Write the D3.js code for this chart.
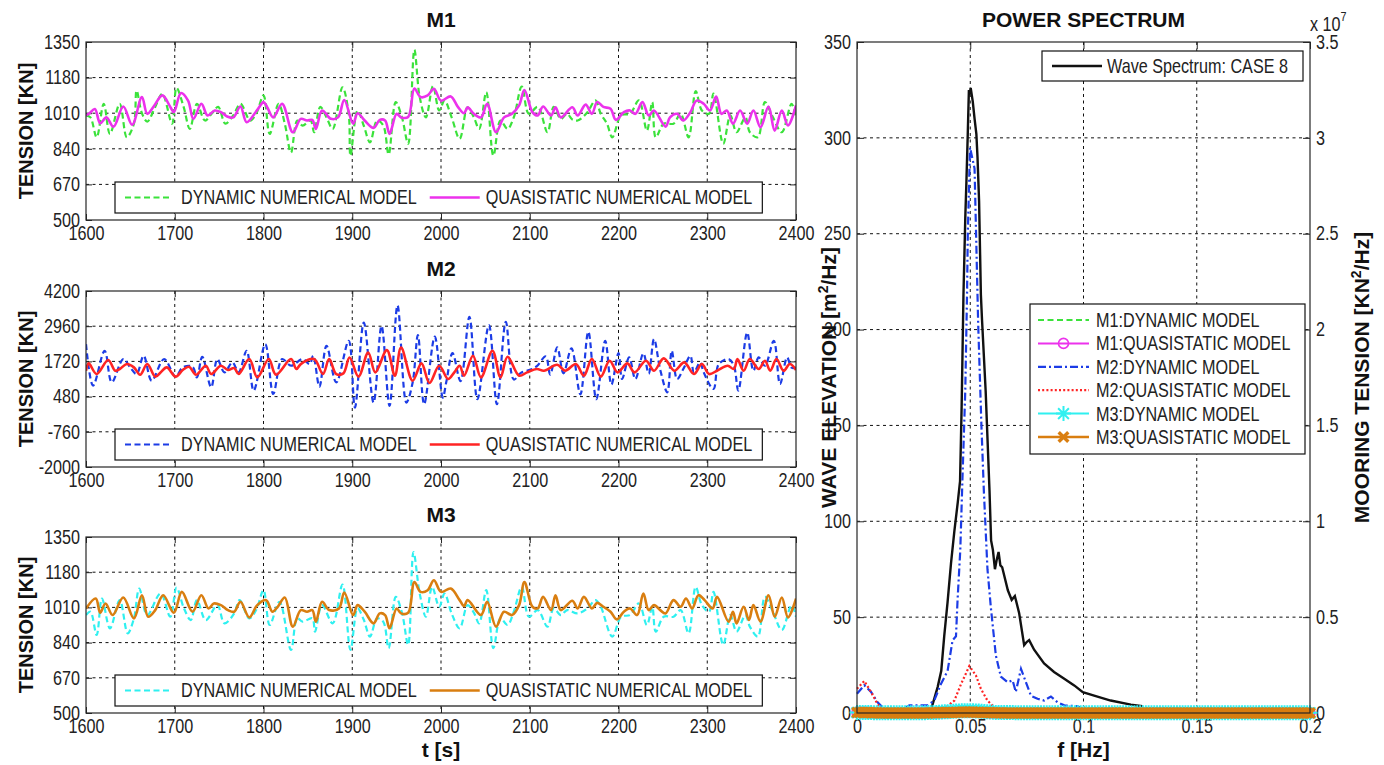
<!DOCTYPE html>
<html>
<head>
<meta charset="utf-8">
<script src="https://cdn.jsdelivr.net/npm/d3@7"></script>
<style>
  body { margin: 0; background: #fff; }
  svg text { font-family: "Liberation Sans", Arial, sans-serif; font-size: 19.5px; fill: #222; }
  svg text.bold { font-weight: bold; font-size: 21px; fill: #111; }
</style>
</head>
<body>
<svg id="chart" width="1384" height="765"></svg>
<script>
// ---------- time axis and tension ticks ----------
const timeTicks = [1600, 1700, 1800, 1900, 2000, 2100, 2200, 2300, 2400];
const m1Ticks = [500, 670, 840, 1010, 1180, 1350];
const m2Ticks = [-2000, -760, 480, 1720, 2960, 4200];
const m3Ticks = [500, 670, 840, 1010, 1180, 1350];
const tensionLegend = ["DYNAMIC NUMERICAL MODEL", "QUASISTATIC NUMERICAL MODEL"];

// ---------- M1 mooring tension [kN] ----------
const m1DynT = [1600,1605,1612,1620,1627,1638,1646,1654,1657,1663,1669,1678,1686,1697,1702,1710,1717,1725,1734,1742,1749,1757,1766,1774,1785,1792,1800,1807,1817,1824,1831,1838,1844,1853,1857,1864,1871,1878,1889,1896,1898,1906,1913,1920,1928,1935,1941,1949,1956,1963,1970,1976,1983,1991,1998,2004,2012,2021,2030,2037,2043,2051,2059,2067,2075,2082,2091,2099,2109,2120,2127,2135,2142,2148,2154,2165,2174,2180,2187,2193,2203,2213,2223,2232,2238,2242,2251,2262,2270,2279,2287,2294,2302,2307,2318,2326,2333,2343,2348,2357,2365,2374,2384,2395,2400];
const m1DynV = [1000,990,895,1055,911,1055,895,960,1118,1010,970,1040,1103,960,1131,1040,935,1055,975,1010,1040,960,1000,1055,975,1010,1095,911,1055,960,822,975,951,975,919,1040,990,935,1134,1007,807,1023,950,871,975,951,813,1063,990,864,1313,1087,990,1140,1023,1070,990,888,1038,990,935,1110,807,975,935,990,1137,1007,1040,919,1040,983,1007,980,975,1015,1071,1007,960,895,1000,1007,1071,927,1063,895,960,960,1007,895,1115,1023,1007,1104,864,1000,919,990,919,895,1063,990,919,1055,990];
const m1QuasiT = [1600,1604,1610,1616,1623,1631,1642,1652,1663,1669,1676,1686,1695,1699,1707,1715,1721,1730,1737,1745,1752,1759,1766,1774,1781,1793,1800,1804,1811,1821,1833,1842,1849,1855,1859,1866,1876,1884,1891,1901,1906,1914,1924,1931,1937,1942,1950,1955,1963,1970,1977,1985,1992,2000,2011,2019,2026,2030,2037,2045,2052,2062,2071,2080,2088,2094,2103,2109,2115,2124,2129,2135,2148,2154,2163,2170,2176,2183,2191,2197,2206,2213,2219,2227,2234,2240,2253,2258,2266,2273,2281,2288,2296,2303,2310,2316,2322,2329,2337,2345,2352,2360,2369,2376,2384,2391,2400];
const m1QuasiV = [1000,1010,1030,962,990,945,1042,955,1087,1007,1040,1095,1040,1015,1106,1070,983,1055,999,1023,1015,994,990,1042,967,1026,1063,1040,990,1055,919,983,975,978,935,1023,983,990,1073,960,1010,975,940,978,975,911,1007,990,992,1128,1087,1095,1127,1070,1090,1040,1010,1038,1007,990,1055,919,990,1007,1047,1121,1015,999,1042,999,1038,990,1038,999,1051,1007,1063,1040,1031,978,1015,1023,1007,1063,999,1023,946,990,1007,975,1015,1070,1055,1023,1090,1007,1023,960,1023,960,1023,943,1042,927,1023,951,1047];

// ---------- M2 mooring tension [kN] ----------
const m2DynT = [1600,1608,1621,1629,1642,1650,1657,1665,1674,1688,1701,1709,1720,1725,1731,1741,1748,1756,1765,1772,1781,1789,1802,1811,1821,1831,1844,1852,1856,1863,1871,1882,1896,1903,1913,1924,1933,1942,1951,1961,1968,1974,1981,1993,2002,2006,2013,2022,2032,2041,2054,2063,2073,2082,2090,2101,2108,2118,2123,2131,2138,2147,2157,2166,2175,2185,2192,2200,2204,2212,2219,2228,2234,2240,2247,2255,2260,2266,2273,2281,2285,2292,2296,2307,2313,2324,2330,2335,2345,2352,2358,2365,2375,2382,2390,2395,2400];
const m2DynV = [2328,866,2094,983,1802,1500,1275,1919,1041,1802,1182,1509,1533,1158,1884,807,1802,1334,1685,1334,2094,690,2328,573,1802,1568,1802,1626,1919,831,2270,983,2445,94,3089,270,2972,154,3692,270,966,2648,212,2590,444,1000,2010,1024,3286,386,2996,212,3112,1082,1314,1430,1550,1894,1256,2211,1300,2184,560,2764,386,2445,908,2010,1100,1860,1100,2000,1290,2504,1430,632,2094,1100,1450,1919,1334,1685,1334,749,1626,1802,1568,690,2738,1392,1860,1568,2445,924,1860,1500,1500];
const m2QuasiT = [1600,1603,1612,1625,1633,1638,1646,1654,1661,1669,1678,1684,1691,1701,1709,1716,1724,1735,1741,1752,1760,1767,1772,1784,1793,1806,1814,1831,1837,1842,1857,1867,1874,1882,1890,1897,1907,1918,1926,1939,1948,1955,1968,1978,1987,1998,2008,2015,2021,2026,2036,2045,2058,2067,2075,2088,2097,2108,2116,2131,2140,2152,2161,2170,2180,2190,2199,2210,2218,2231,2240,2251,2263,2274,2285,2294,2302,2311,2323,2330,2334,2341,2348,2358,2365,2371,2378,2386,2393,2400];
const m2QuasiV = [1392,1650,1275,1767,1392,1450,1626,1509,1252,1626,1182,1330,1509,1182,1416,1533,1252,1568,1275,1568,1416,1486,1275,1802,1158,1802,1252,1802,1451,1626,1802,1275,1802,1275,1299,1860,1182,2036,1334,2118,1217,2211,1041,1650,959,1568,1100,1334,1568,1217,1919,1158,2094,1158,1884,1217,1334,1451,1392,1603,1392,1626,1217,1802,1182,1743,1334,1650,1334,1743,1392,1825,1392,1685,1275,1626,1275,1392,1568,1451,1802,1392,1802,1451,1743,1392,1802,1392,1626,1416];

// ---------- M3 mooring tension [kN] ----------
const m3DynT = [1600,1605,1612,1618,1627,1638,1647,1654,1660,1669,1684,1695,1702,1710,1718,1725,1735,1748,1756,1767,1773,1784,1792,1800,1807,1818,1831,1838,1844,1855,1858,1866,1878,1889,1898,1906,1913,1920,1928,1935,1941,1949,1956,1963,1969,1976,1983,1990,1998,2004,2012,2021,2030,2037,2043,2051,2059,2067,2075,2082,2091,2099,2109,2120,2127,2135,2142,2154,2165,2174,2180,2193,2203,2213,2223,2232,2238,2242,2251,2262,2270,2279,2287,2294,2302,2307,2318,2326,2333,2343,2348,2357,2365,2374,2384,2395,2400];
const m3DynV = [973,989,877,1053,909,1045,885,957,1101,973,1077,965,1106,1010,949,1045,949,1021,933,981,1045,957,1000,1093,925,1037,805,957,941,957,893,1021,933,1120,805,1005,950,869,957,940,813,1061,985,829,1277,1077,965,1109,1013,1077,980,909,1021,985,933,1093,813,957,925,989,1109,965,997,917,1005,973,997,981,1005,1045,1013,869,965,973,1029,925,1013,893,965,965,997,885,1109,1021,989,1085,829,973,893,973,917,869,1061,989,901,1021,965];
const m3QuasiT = [1600,1611,1616,1622,1630,1642,1654,1663,1670,1678,1687,1699,1708,1720,1730,1738,1744,1752,1760,1767,1774,1784,1793,1803,1810,1816,1824,1833,1842,1849,1855,1859,1866,1874,1885,1891,1901,1906,1914,1924,1931,1937,1942,1950,1955,1963,1970,1977,1985,1992,2000,2011,2021,2026,2030,2045,2052,2062,2071,2080,2088,2094,2103,2109,2115,2124,2129,2135,2148,2154,2161,2170,2176,2183,2191,2198,2206,2213,2221,2228,2234,2240,2247,2253,2262,2270,2276,2283,2290,2297,2306,2311,2324,2329,2333,2341,2347,2352,2360,2369,2376,2384,2391,2400];
const m3QuasiV = [1005,1053,984,1029,973,1058,957,1069,965,997,1069,984,1085,989,1069,1005,1029,1021,997,989,1037,962,1021,1045,989,1013,1058,917,997,989,997,941,1037,997,1005,1082,973,1021,989,933,981,973,909,1005,981,984,1133,1085,1093,1141,1085,1101,1045,1016,1045,973,1037,917,989,973,1021,1133,1013,1005,1061,997,1069,997,1042,1005,1061,1005,1032,1013,989,952,989,1005,973,1077,997,1021,997,981,1045,1013,1053,1005,1069,1045,1005,1061,941,989,933,1013,949,1021,941,1069,965,1058,962,1053];

// ---------- power spectrum ----------
const freqTicks = [0, 0.05, 0.1, 0.15, 0.2];
const elevTicks = [0, 50, 100, 150, 200, 250, 300, 350];
const tensTicks = [0, 0.5, 1, 1.5, 2, 2.5, 3, 3.5];   // x 10^7
const waveLegend = ["Wave Spectrum: CASE 8"];
const spectrumLegend = ["M1:DYNAMIC MODEL", "M1:QUASISTATIC MODEL", "M2:DYNAMIC MODEL", "M2:QUASISTATIC MODEL", "M3:DYNAMIC MODEL", "M3:QUASISTATIC MODEL"];

// wave elevation spectrum [m^2/Hz]
const waveF = [0,0.025,0.031,0.033,0.0356,0.0372,0.0385,0.040,0.0415,0.043,0.0445,0.0455,0.0462,0.047,0.0478,0.0483,0.0489,0.0494,0.0498,0.0502,0.0511,0.0519,0.0527,0.0532,0.0539,0.0547,0.0552,0.0568,0.0585,0.0592,0.0600,0.0609,0.0617,0.0625,0.0633,0.0641,0.0666,0.0683,0.0697,0.0716,0.0738,0.0749,0.0760,0.0782,0.0826,0.0870,0.0915,0.0959,0.0997,0.1047,0.1120,0.1209,0.1260];
const waveS = [0,0.2,1,3,13.5,22,40,58,78,95,110,121,160,218,258,277,302,325,323,326,319,310,302,290,267,218,205,168,116,90,85,75,80,84,77,76,64,59,61,52,35.4,37,38,33,25.8,21.4,17.9,14.4,10.9,9.1,6.5,4.4,3.5];

// mooring tension spectra [x 10^7 kN^2/Hz]
const m2DynF = [0,0.0032,0.0062,0.0091,0.0113,0.015,0.020,0.0231,0.0312,0.0341,0.037,0.040,0.0422,0.0437,0.0444,0.0456,0.0465,0.0478,0.0486,0.0489,0.0499,0.0519,0.0532,0.0535,0.0549,0.0560,0.0576,0.0591,0.0613,0.0635,0.0665,0.0687,0.0701,0.0724,0.0746,0.0768,0.0797,0.0826,0.0856,0.0885,0.0915,0.0974,0.100,0.110,0.200];
const m2DynS = [0.10,0.145,0.11,0.056,0.03,0.01,0.02,0.04,0.04,0.065,0.15,0.22,0.38,0.40,0.59,0.85,1.2,1.68,2.2,2.49,2.95,2.84,2.18,2.03,1.51,1.16,0.75,0.55,0.30,0.19,0.16,0.17,0.11,0.23,0.16,0.09,0.074,0.065,0.086,0.056,0.04,0.035,0.02,0.01,0];
const m2QuasiF = [0,0.0032,0.0062,0.0091,0.0113,0.020,0.0393,0.043,0.0459,0.0496,0.0525,0.0547,0.0576,0.0606,0.065,0.200];
const m2QuasiS = [0.126,0.167,0.11,0.045,0.02,0.005,0.03,0.065,0.15,0.245,0.196,0.126,0.065,0.03,0.005,0];

// frequency bins (0.00125 Hz) shared by the M1 and M3 spectra
const specFreq = [
  0,0.00125,0.0025,0.00375,0.005,0.00625,0.0075,0.00875,
  0.01,0.01125,0.0125,0.01375,0.015,0.01625,0.0175,0.01875,
  0.02,0.02125,0.0225,0.02375,0.025,0.02625,0.0275,0.02875,
  0.03,0.03125,0.0325,0.03375,0.035,0.03625,0.0375,0.03875,
  0.04,0.04125,0.0425,0.04375,0.045,0.04625,0.0475,0.04875,
  0.05,0.05125,0.0525,0.05375,0.055,0.05625,0.0575,0.05875,
  0.06,0.06125,0.0625,0.06375,0.065,0.06625,0.0675,0.06875,
  0.07,0.07125,0.0725,0.07375,0.075,0.07625,0.0775,0.07875,
  0.08,0.08125,0.0825,0.08375,0.085,0.08625,0.0875,0.08875,
  0.09,0.09125,0.0925,0.09375,0.095,0.09625,0.0975,0.09875,
  0.1,0.10125,0.1025,0.10375,0.105,0.10625,0.1075,0.10875,
  0.11,0.11125,0.1125,0.11375,0.115,0.11625,0.1175,0.11875,
  0.12,0.12125,0.1225,0.12375,0.125,0.12625,0.1275,0.12875,
  0.13,0.13125,0.1325,0.13375,0.135,0.13625,0.1375,0.13875,
  0.14,0.14125,0.1425,0.14375,0.145,0.14625,0.1475,0.14875,
  0.15,0.15125,0.1525,0.15375,0.155,0.15625,0.1575,0.15875,
  0.16,0.16125,0.1625,0.16375,0.165,0.16625,0.1675,0.16875,
  0.17,0.17125,0.1725,0.17375,0.175,0.17625,0.1775,0.17875,
  0.18,0.18125,0.1825,0.18375,0.185,0.18625,0.1875,0.18875,
  0.19,0.19125,0.1925,0.19375,0.195,0.19625,0.1975,0.19875,
  0.2];
const m1DynSpec = [
  0.004,0.005,0.006,0.005,0.004,0.003,0.002,0.001,
  0.001,0.001,0.001,0.001,0.001,0.001,0.001,0.001,
  0.001,0.001,0.001,0.001,0.001,0.001,0.001,0.001,
  0.001,0.001,0.002,0.002,0.002,0.003,0.003,0.004,
  0.004,0.005,0.006,0.007,0.008,0.009,0.009,0.009,
  0.009,0.009,0.008,0.007,0.006,0.005,0.004,0.003,
  0.003,0.002,0.002,0.002,0.002,0.002,0.002,0.002,
  0.002,0.001,0.001,0.001,0.001,0.001,0.001,0.001,
  0.001,0.001,0.001,0.001,0.001,0.001,0.001,0.001,
  0.001,0.001,0.001,0.001,0.001,0.001,0.001,0.001,
  0,0,0,0,0,0,0,0, 0,0,0,0,0,0,0,0, 0,0,0,0,0,0,0,0, 0,0,0,0,0,0,0,0, 0,0,0,0,0,0,0,0,
  0,0,0,0,0,0,0,0, 0,0,0,0,0,0,0,0, 0,0,0,0,0,0,0,0, 0,0,0,0,0,0,0,0, 0,0,0,0,0,0,0,0,
  0];
const m1QuasiSpec = [
  0.003,0.004,0.004,0.003,0.003,0.002,0.001,0.001,
  0,0,0,0,0,0,0,0, 0,0,0,0,0,0,0,0,
  0,0,0.001,0.001,0.001,0.002,0.002,0.002,
  0.003,0.003,0.004,0.004,0.005,0.005,0.005,0.005,
  0.005,0.005,0.004,0.004,0.003,0.003,0.002,0.002,
  0.001,0.001,0.001,0.001,0.001,0.001,0,0,
  0,0,0,0,0,0,0,0, 0,0,0,0,0,0,0,0, 0,0,0,0,0,0,0,0, 0,0,0,0,0,0,0,0, 0,0,0,0,0,0,0,0,
  0,0,0,0,0,0,0,0, 0,0,0,0,0,0,0,0, 0,0,0,0,0,0,0,0, 0,0,0,0,0,0,0,0, 0,0,0,0,0,0,0,0,
  0,0,0,0,0,0,0,0, 0,0,0,0,0,0,0,0, 0,0,0,0,0,0,0,0,
  0];
const m3DynSpec = [
  0.002,0.003,0.003,0.003,0.002,0.002,0.001,0.001,
  0.001,0.001,0.001,0.001,0.001,0.001,0.001,0.001,
  0.001,0.001,0.001,0.001,0.001,0.001,0.001,0.001,
  0.001,0.002,0.002,0.003,0.003,0.004,0.005,0.006,
  0.007,0.008,0.009,0.010,0.011,0.012,0.012,0.012,
  0.012,0.012,0.011,0.010,0.009,0.008,0.006,0.005,
  0.004,0.003,0.003,0.002,0.002,0.002,0.002,0.002,
  0.001,0.001,0.001,0.001,0.001,0.001,0.001,0.001,
  0.001,0.001,0.001,0.001,0.001,0.001,0.001,0.001,
  0.001,0.001,0.001,0.001,0.001,0.001,0.001,0.001,
  0.001,0.001,0.001,0.001,0.001,0.001,0.001,0.001,
  0.001,0.001,0.001,0.001,0.001,0.001,0.001,0.001,
  0.001,0.001,0.001,0.001,0.001,0.001,0.001,0.001,
  0.001,0.001,0.001,0.001,0.001,0.001,0.001,0.001,
  0.001,0.001,0.001,0.001,0.001,0.001,0.001,0.001,
  0.001,0.001,0.001,0.001,0.001,0.001,0.001,0.001,
  0.001,0.001,0.001,0.001,0.001,0.001,0.001,0.001,
  0.001,0.001,0.001,0.001,0.001,0.001,0.001,0.001,
  0.001,0.001,0.001,0.001,0.001,0.001,0.001,0.001,
  0.001,0.001,0.001,0.001,0.001,0.001,0.001,0.001,
  0.001];
const m3QuasiSpec = [
  0.002,0.003,0.003,0.002,0.002,0.001,0.001,0.001,
  0,0,0,0,0,0,0,0, 0,0,0,0,0,0,0,0,
  0,0,0.001,0.001,0.001,0.002,0.002,0.002,
  0.003,0.003,0.003,0.004,0.004,0.005,0.005,0.005,
  0.005,0.005,0.004,0.004,0.003,0.003,0.002,0.002,
  0.001,0.001,0.001,0.001,0,0,0,0,
  0,0,0,0,0,0,0,0, 0,0,0,0,0,0,0,0, 0,0,0,0,0,0,0,0, 0,0,0,0,0,0,0,0, 0,0,0,0,0,0,0,0,
  0,0,0,0,0,0,0,0, 0,0,0,0,0,0,0,0, 0,0,0,0,0,0,0,0, 0,0,0,0,0,0,0,0, 0,0,0,0,0,0,0,0,
  0,0,0,0,0,0,0,0, 0,0,0,0,0,0,0,0, 0,0,0,0,0,0,0,0,
  0];

// ---------- styling ----------
const C = {
  green: "#3be23b", magenta: "#ec32ec", blue: "#1c3ce6", red: "#ff2424",
  cyan: "#2ff0f0", orange: "#d97e10", black: "#111", axis: "#262626"
};
const DASH = "6,3.5", DASHDOT = "8,3,2,3", DOT = "2,2.2", GRID = "3,3.5";
const NX = 0.83;   // horizontal squeeze of the plain (non-bold) lettering

const svg = d3.select("#chart");
const zip = (a, b) => a.map((v, i) => [v, b[i]]);

// squeeze text horizontally about its own x anchor
function narrow(sel) {
  sel.each(function () {
    const t = d3.select(this);
    const x = +t.attr("x") || 0;
    t.attr("transform", `matrix(${NX},0,0,1,${x * (1 - NX)},0)`);
  });
  return sel;
}

// marker glyphs centred on the origin
function drawMarker(sel, type, color) {
  if (type === "circle") {
    sel.append("circle").attr("r", 5).attr("fill", "none").attr("stroke", color).attr("stroke-width", 1.6);
  } else if (type === "star") {
    const s = 7.5, d = s * 0.72;
    sel.append("path").attr("d", `M${-s},0H${s}M0,${-s}V${s}M${-d},${-d}L${d},${d}M${-d},${d}L${d},${-d}`)
      .attr("stroke", color).attr("stroke-width", 2).attr("fill", "none");
  } else if (type === "x") {
    const s = 4.8;
    sel.append("path").attr("d", `M${-s},${-s}L${s},${s}M${-s},${s}L${s},${-s}`)
      .attr("stroke", color).attr("stroke-width", 3.4).attr("fill", "none");
  }
}

function cleanAxis(a) {
  a.select(".domain").remove();
  a.attr("font-size", null).attr("font-family", null);
  a.selectAll("text").attr("fill", null);
  narrow(a.selectAll("text"));
}

// ---------- tension time-history panels ----------
const plotL = 86, plotR = 796;
const xTime = d3.scaleLinear().domain([1600, 2400]).range([plotL, plotR]);

const panels = [
  { title: "M1", top: 42, bottom: 220, ticks: m1Ticks, dyn: zip(m1DynT, m1DynV), quasi: zip(m1QuasiT, m1QuasiV), dc: C.green, qc: C.magenta },
  { title: "M2", top: 291, bottom: 467, ticks: m2Ticks, dyn: zip(m2DynT, m2DynV), quasi: zip(m2QuasiT, m2QuasiV), dc: C.blue, qc: C.red },
  { title: "M3", top: 537, bottom: 713, ticks: m3Ticks, dyn: zip(m3DynT, m3DynV), quasi: zip(m3QuasiT, m3QuasiV), dc: C.cyan, qc: C.orange }
];

panels.forEach((p, idx) => {
  const y = d3.scaleLinear().domain([p.ticks[0], p.ticks[p.ticks.length - 1]]).range([p.bottom, p.top]);
  const g = svg.append("g");

  // grid
  g.selectAll(".vg").data(timeTicks.slice(1, -1)).join("line")
    .attr("x1", d => xTime(d)).attr("x2", d => xTime(d)).attr("y1", p.top).attr("y2", p.bottom)
    .attr("stroke", "#111").attr("stroke-dasharray", GRID);
  g.selectAll(".hg").data(p.ticks.slice(1, -1)).join("line")
    .attr("x1", plotL).attr("x2", plotR).attr("y1", d => y(d)).attr("y2", d => y(d))
    .attr("stroke", "#111").attr("stroke-dasharray", GRID);

  // inward ticks
  [[d3.axisTop(xTime).tickValues(timeTicks), `translate(0,${p.bottom})`],
   [d3.axisBottom(xTime).tickValues(timeTicks), `translate(0,${p.top})`],
   [d3.axisRight(y).tickValues(p.ticks), `translate(${plotL},0)`],
   [d3.axisLeft(y).tickValues(p.ticks), `translate(${plotR},0)`]].forEach(([a, tr]) => {
    g.append("g").attr("transform", tr).call(a.tickSize(6).tickFormat(""))
      .call(s => s.select(".domain").remove()).selectAll("line").attr("stroke", C.axis);
  });

  // tick labels
  cleanAxis(g.append("g").attr("transform", `translate(${plotL},0)`)
    .call(d3.axisLeft(y).tickValues(p.ticks).tickSize(0).tickPadding(6).tickFormat(d => String(d))));
  cleanAxis(g.append("g").attr("transform", `translate(0,${p.bottom})`)
    .call(d3.axisBottom(xTime).tickValues(timeTicks).tickSize(0).tickPadding(6).tickFormat(d => String(d))));

  // data
  const clipId = "clip" + idx;
  svg.append("clipPath").attr("id", clipId).append("rect")
    .attr("x", plotL).attr("y", p.top).attr("width", plotR - plotL).attr("height", p.bottom - p.top);
  const line = d3.line().x(d => xTime(d[0])).y(d => y(d[1])).curve(d3.curveCatmullRom.alpha(0.5));
  const dg = g.append("g").attr("clip-path", `url(#${clipId})`);
  dg.append("path").datum(p.dyn).attr("d", line).attr("fill", "none")
    .attr("stroke", p.dc).attr("stroke-width", 2.2).attr("stroke-dasharray", DASH);
  dg.append("path").datum(p.quasi).attr("d", line).attr("fill", "none")
    .attr("stroke", p.qc).attr("stroke-width", 2.6).attr("stroke-linejoin", "round");

  // frame
  g.append("rect").attr("x", plotL).attr("y", p.top).attr("width", plotR - plotL).attr("height", p.bottom - p.top)
    .attr("fill", "none").attr("stroke", C.axis).attr("stroke-width", 1.2);

  // legend
  const ly0 = p.bottom - 38, ly1 = p.bottom - 7, lym = (ly0 + ly1) / 2;
  const lg = g.append("g");
  const box = lg.append("rect").attr("x", 115).attr("y", ly0).attr("height", ly1 - ly0)
    .attr("fill", "#fff").attr("stroke", "#111").attr("stroke-width", 1.2);
  lg.append("line").attr("x1", 125).attr("x2", 172).attr("y1", lym).attr("y2", lym)
    .attr("stroke", p.dc).attr("stroke-width", 2.2).attr("stroke-dasharray", DASH);
  const t1 = lg.append("text").attr("x", 181).attr("y", lym + 7).text(tensionLegend[0]);
  narrow(t1);
  const s2 = 181 + t1.node().getComputedTextLength() * NX + 13;
  lg.append("line").attr("x1", s2).attr("x2", s2 + 50).attr("y1", lym).attr("y2", lym)
    .attr("stroke", p.qc).attr("stroke-width", 2.6);
  const t2 = lg.append("text").attr("x", s2 + 56).attr("y", lym + 7).text(tensionLegend[1]);
  narrow(t2);
  box.attr("width", s2 + 56 + t2.node().getComputedTextLength() * NX + 10 - 115);

  // title and axis label
  g.append("text").attr("class", "bold").attr("x", (plotL + plotR) / 2).attr("y", p.top - 15)
    .attr("text-anchor", "middle").text(p.title);
  const cy = (p.top + p.bottom) / 2;
  g.append("text").attr("class", "bold").attr("text-anchor", "middle")
    .attr("transform", `translate(33,${cy}) rotate(-90)`).style("font-size", "20px").text("TENSION [KN]");
});

svg.append("text").attr("class", "bold").attr("x", (plotL + plotR) / 2).attr("y", 757)
  .attr("text-anchor", "middle").text("t [s]");

// ---------- power spectrum panel ----------
const sL = 857, sR = 1310, sT = 42, sB = 713;
const xF = d3.scaleLinear().domain([0, 0.2]).range([sL, sR]);
const yE = d3.scaleLinear().domain([0, 350]).range([sB, sT]);
const yT = d3.scaleLinear().domain([0, 3.5]).range([sB, sT]);
const sg = svg.append("g");

sg.selectAll(".vg").data(freqTicks.slice(1, -1)).join("line")
  .attr("x1", d => xF(d)).attr("x2", d => xF(d)).attr("y1", sT).attr("y2", sB)
  .attr("stroke", "#111").attr("stroke-dasharray", GRID);
sg.selectAll(".hg").data(elevTicks.slice(1, -1)).join("line")
  .attr("x1", sL).attr("x2", sR).attr("y1", d => yE(d)).attr("y2", d => yE(d))
  .attr("stroke", "#111").attr("stroke-dasharray", GRID);

// inward ticks
[[d3.axisTop(xF).tickValues(freqTicks), `translate(0,${sB})`],
 [d3.axisBottom(xF).tickValues(freqTicks), `translate(0,${sT})`],
 [d3.axisRight(yE).tickValues(elevTicks), `translate(${sL},0)`],
 [d3.axisLeft(yT).tickValues(tensTicks), `translate(${sR},0)`]].forEach(([a, tr]) => {
  sg.append("g").attr("transform", tr).call(a.tickSize(7).tickFormat(""))
    .call(s => s.select(".domain").remove()).selectAll("line").attr("stroke", C.axis);
});

cleanAxis(sg.append("g").attr("transform", `translate(${sL},0)`)
  .call(d3.axisLeft(yE).tickValues(elevTicks).tickSize(0).tickPadding(6).tickFormat(d => String(d))));
cleanAxis(sg.append("g").attr("transform", `translate(${sR},0)`)
  .call(d3.axisRight(yT).tickValues(tensTicks).tickSize(0).tickPadding(6).tickFormat(d => String(d))));
cleanAxis(sg.append("g").attr("transform", `translate(0,${sB})`)
  .call(d3.axisBottom(xF).tickValues(freqTicks).tickSize(0).tickPadding(6).tickFormat(d => String(d))));

// wave spectrum on the left axis
const lineE = d3.line().x(d => xF(d[0])).y(d => yE(d[1]));
const lineT = d3.line().x(d => xF(d[0])).y(d => yT(d[1]));
sg.append("path").datum(zip(waveF, waveS)).attr("d", lineE).attr("fill", "none")
  .attr("stroke", C.black).attr("stroke-width", 2.4);

// mooring tension spectra on the right axis
const specSeries = [
  { data: zip(specFreq, m1DynSpec), color: C.green, dash: DASH, marker: null, w: 2 },
  { data: zip(specFreq, m1QuasiSpec), color: C.magenta, dash: null, marker: "circle", w: 2 },
  { data: zip(m2DynF, m2DynS), color: C.blue, dash: DASHDOT, marker: null, w: 2.2 },
  { data: zip(m2QuasiF, m2QuasiS), color: C.red, dash: DOT, marker: null, w: 2.2 },
  { data: zip(specFreq, m3DynSpec), color: C.cyan, dash: null, marker: "star", w: 2 },
  { data: zip(specFreq, m3QuasiSpec), color: C.orange, dash: null, marker: "x", w: 2.6 }
];
specSeries.forEach(s => {
  sg.append("path").datum(s.data).attr("d", lineT).attr("fill", "none")
    .attr("stroke", s.color).attr("stroke-width", s.w).attr("stroke-dasharray", s.dash);
  if (s.marker) {
    sg.append("g").selectAll("g").data(s.data).join("g")
      .attr("transform", d => `translate(${xF(d[0])},${yT(d[1])})`)
      .each(function () { drawMarker(d3.select(this), s.marker, s.color); });
  }
});

sg.append("rect").attr("x", sL).attr("y", sT).attr("width", sR - sL).attr("height", sB - sT)
  .attr("fill", "none").attr("stroke", C.axis).attr("stroke-width", 1.2);

// wave legend
const wl = sg.append("g");
wl.append("rect").attr("x", 1042).attr("y", 51).attr("width", 261).attr("height", 30)
  .attr("fill", "#fff").attr("stroke", "#111").attr("stroke-width", 1.2);
wl.append("line").attr("x1", 1052).attr("x2", 1102).attr("y1", 66).attr("y2", 66)
  .attr("stroke", C.black).attr("stroke-width", 2.4);
narrow(wl.append("text").attr("x", 1107).attr("y", 73).text(waveLegend[0]));

// tension spectra legend
const tl = sg.append("g");
tl.append("rect").attr("x", 1030).attr("y", 304).attr("width", 275).attr("height", 150)
  .attr("fill", "#fff").attr("stroke", "#111").attr("stroke-width", 1.2);
specSeries.forEach((s, i) => {
  const yy = 320 + i * 23.4;
  tl.append("line").attr("x1", 1038).attr("x2", 1089).attr("y1", yy).attr("y2", yy)
    .attr("stroke", s.color).attr("stroke-width", s.w).attr("stroke-dasharray", s.dash);
  if (s.marker) drawMarker(tl.append("g").attr("transform", `translate(1063.5,${yy})`), s.marker, s.color);
  narrow(tl.append("text").attr("x", 1096).attr("y", yy + 7).text(spectrumLegend[i]));
});

// titles and labels
svg.append("text").attr("class", "bold").attr("x", (sL + sR) / 2).attr("y", 27)
  .attr("text-anchor", "middle").text("POWER SPECTRUM");
svg.append("text").attr("class", "bold").attr("x", (sL + sR) / 2).attr("y", 757)
  .attr("text-anchor", "middle").text("f [Hz]");
const ex = svg.append("text").attr("x", 1310).attr("y", 31);
ex.append("tspan").text("x 10");
ex.append("tspan").attr("dy", -10).style("font-size", "13px").text("7");
narrow(ex);

const wLab = svg.append("text").attr("class", "bold").attr("text-anchor", "middle")
  .attr("transform", `translate(836,${(sT + sB) / 2}) rotate(-90)`);
wLab.append("tspan").text("WAVE ELEVATION [m");
wLab.append("tspan").attr("dy", -8).style("font-size", "14px").text("2");
wLab.append("tspan").attr("dy", 8).text("/Hz]");

const mLab = svg.append("text").attr("class", "bold").attr("text-anchor", "middle")
  .attr("transform", `translate(1369,${(sT + sB) / 2}) rotate(-90)`);
mLab.append("tspan").text("MOORING TENSION [KN");
mLab.append("tspan").attr("dy", -8).style("font-size", "14px").text("2");
mLab.append("tspan").attr("dy", 8).text("/Hz]");
</script>
</body>
</html>
